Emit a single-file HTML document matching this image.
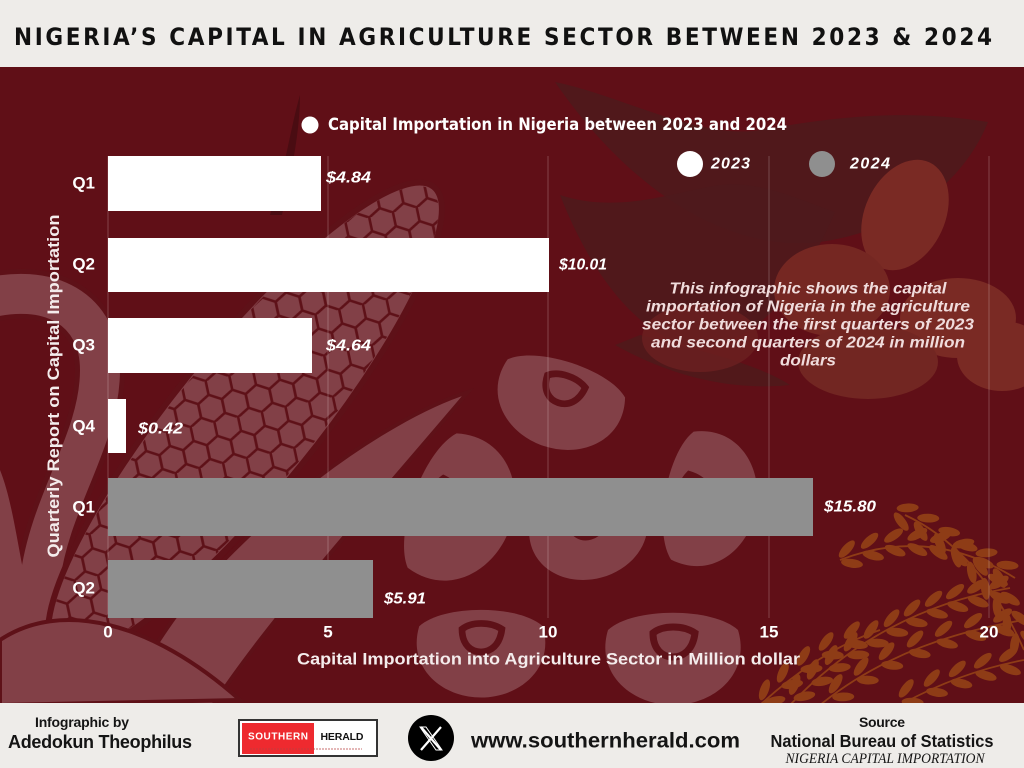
<!DOCTYPE html>
<html><head><meta charset="utf-8"><style>
html,body{margin:0;padding:0;background:#eeece9;}
svg{display:block;}
</style></head><body>
<svg width="1024" height="768" viewBox="0 0 1024 768" xmlns="http://www.w3.org/2000/svg">
<defs>
<clipPath id="red"><rect x="0" y="67" width="1024" height="636"/></clipPath>
<pattern id="hex" width="42" height="24.25" patternUnits="userSpaceOnUse" patternTransform="rotate(-51)">
<path d="M0,12.12 L7,0 H21 L28,12.12 H42 M0,12.12 L7,24.25 H21 L28,12.12" stroke="#5e1118" stroke-width="2.6" fill="none"/>
</pattern>
<g id="bean">
<path d="M-65,-25 C-40,-48 40,-48 65,-25 C78,18 42,50 0,50 C-42,50 -78,18 -65,-25 Z" fill="#824047"/>
<path d="M-20,-22 C-10,-30 10,-30 22,-22 C20,-5 10,2 0,2 C-10,2 -20,-5 -20,-22 Z" fill="none" stroke="#5e1118" stroke-width="7"/>
</g>
<g id="gr2" fill="#8e3c16">
<ellipse cx="3" cy="-7" rx="11" ry="4.4" transform="rotate(-28)"/>
<ellipse cx="3" cy="7" rx="11" ry="4.4" transform="rotate(28)"/>
</g>
</defs>

<rect width="1024" height="768" fill="#eeece9"/>
<rect x="0" y="67" width="1024" height="636" fill="#600f17"/>

<g clip-path="url(#red)">
<!-- soybean pods top right -->
<path d="M555,82 C620,95 700,140 760,130 C830,118 900,108 988,122 C965,180 905,230 820,242 C740,252 640,205 555,82 Z" fill="#4e1a1c" opacity="0.85"/>
<path d="M560,195 C620,215 680,190 720,185 C760,180 800,200 835,212 C805,282 762,342 700,347 C640,342 590,272 560,195 Z" fill="#4e1a1c" opacity="0.85"/>
<path d="M615,345 C660,370 720,392 790,385 C760,365 700,350 640,335 Z" fill="#4e1a1c" opacity="0.8"/>
<ellipse cx="700" cy="338" rx="58" ry="34" fill="#6c2020" opacity="0.8"/>
<ellipse cx="905" cy="215" rx="40" ry="58" transform="rotate(25 905 215)" fill="#7a2a24"/>
<ellipse cx="832" cy="290" rx="58" ry="46" fill="#752722"/>
<ellipse cx="958" cy="318" rx="58" ry="40" fill="#7a2a24"/>
<ellipse cx="868" cy="362" rx="70" ry="37" fill="#722622"/>
<ellipse cx="1002" cy="356" rx="45" ry="35" fill="#7a2a24"/>

<!-- corn leaves -->
<path d="M-20,300 C50,280 100,310 100,370 C100,440 50,500 40,580 C35,640 60,690 90,712" stroke="#5e1118" stroke-width="50" fill="none"/>
<path d="M-20,300 C50,280 100,310 100,370 C100,440 50,500 40,580 C35,640 60,690 90,712" stroke="#824047" stroke-width="40" fill="none"/>
<path d="M0,470 C20,520 20,600 60,705 L0,705 Z" fill="#824047"/>
<path d="M468,392 C380,420 250,520 180,610 C150,650 130,690 115,710 L210,710 C265,625 355,525 468,392 Z" fill="#824047" stroke="#5e1118" stroke-width="4"/>
<path d="M300,95 C290,130 285,170 270,215 L282,215 C292,170 300,130 300,95 Z" fill="#4a0c12"/>
<!-- corn cob -->
<ellipse cx="245" cy="420" rx="300" ry="72" transform="rotate(-51 245 420)" fill="#824047" stroke="#5e1118" stroke-width="6"/>
<ellipse cx="245" cy="420" rx="296" ry="68" transform="rotate(-51 245 420)" fill="url(#hex)"/>
<path d="M0,640 C60,600 150,620 240,700 L0,705 Z" fill="#824047" stroke="#5e1118" stroke-width="4"/>

<!-- beans -->
<use href="#bean" transform="translate(559,401) rotate(18) scale(0.95)"/>
<use href="#bean" transform="translate(458,510) rotate(-70) scale(1.1)"/>
<use href="#bean" transform="translate(590,535) rotate(-15) scale(0.88)"/>
<use href="#bean" transform="translate(707,500) rotate(-80) scale(1.0)"/>
<use href="#bean" transform="translate(481,650) scale(0.95)"/>
<use href="#bean" transform="translate(673,655) scale(1.0)"/>

<!-- rice -->
<g stroke="#8e3c16" stroke-width="1.8" fill="none">
<path d="M905,515 Q980,550 1024,650"/>
<path d="M790,705 Q880,610 1010,588"/>
<path d="M840,560 Q930,525 1015,578"/>
<path d="M900,705 Q960,672 1024,660"/>
<path d="M760,705 Q820,650 880,630"/>
<path d="M820,705 Q900,640 1024,620"/>
</g>
<use href="#gr2" transform="translate(905,515) rotate(25)"/>
<use href="#gr2" transform="translate(925,525) rotate(30)"/>
<use href="#gr2" transform="translate(945,538) rotate(38)"/>
<use href="#gr2" transform="translate(962,552) rotate(45)"/>
<use href="#gr2" transform="translate(978,568) rotate(50)"/>
<use href="#gr2" transform="translate(992,585) rotate(55)"/>
<use href="#gr2" transform="translate(1004,603) rotate(60)"/>
<use href="#gr2" transform="translate(1014,622) rotate(65)"/>
<use href="#gr2" transform="translate(1022,642) rotate(70)"/>
<use href="#gr2" transform="translate(800,690) rotate(-40)"/>
<use href="#gr2" transform="translate(818,675) rotate(-38)"/>
<use href="#gr2" transform="translate(836,661) rotate(-34)"/>
<use href="#gr2" transform="translate(855,648) rotate(-30)"/>
<use href="#gr2" transform="translate(875,636) rotate(-26)"/>
<use href="#gr2" transform="translate(895,625) rotate(-22)"/>
<use href="#gr2" transform="translate(915,615) rotate(-18)"/>
<use href="#gr2" transform="translate(936,606) rotate(-14)"/>
<use href="#gr2" transform="translate(957,599) rotate(-10)"/>
<use href="#gr2" transform="translate(978,594) rotate(-6)"/>
<use href="#gr2" transform="translate(1000,590) rotate(-3)"/>
<use href="#gr2" transform="translate(850,556) rotate(-20)"/>
<use href="#gr2" transform="translate(872,548) rotate(-14)"/>
<use href="#gr2" transform="translate(895,543) rotate(-6)"/>
<use href="#gr2" transform="translate(918,542) rotate(0)"/>
<use href="#gr2" transform="translate(940,545) rotate(8)"/>
<use href="#gr2" transform="translate(962,551) rotate(16)"/>
<use href="#gr2" transform="translate(984,560) rotate(24)"/>
<use href="#gr2" transform="translate(1004,572) rotate(32)"/>
<use href="#gr2" transform="translate(910,695) rotate(-25)"/>
<use href="#gr2" transform="translate(935,685) rotate(-20)"/>
<use href="#gr2" transform="translate(960,676) rotate(-16)"/>
<use href="#gr2" transform="translate(985,668) rotate(-12)"/>
<use href="#gr2" transform="translate(1010,662) rotate(-8)"/>
<use href="#gr2" transform="translate(770,695) rotate(-42)"/>
<use href="#gr2" transform="translate(788,678) rotate(-38)"/>
<use href="#gr2" transform="translate(808,662) rotate(-32)"/>
<use href="#gr2" transform="translate(830,648) rotate(-26)"/>
<use href="#gr2" transform="translate(855,637) rotate(-20)"/>
<use href="#gr2" transform="translate(840,690) rotate(-30)"/>
<use href="#gr2" transform="translate(865,673) rotate(-26)"/>
<use href="#gr2" transform="translate(890,658) rotate(-22)"/>
<use href="#gr2" transform="translate(918,646) rotate(-18)"/>
<use href="#gr2" transform="translate(946,636) rotate(-14)"/>
<use href="#gr2" transform="translate(975,628) rotate(-10)"/>
<use href="#gr2" transform="translate(1004,623) rotate(-6)"/>
</g>

<!-- gridlines -->
<g stroke="#ffffff" stroke-opacity="0.22" stroke-width="1">
<line x1="108" y1="156" x2="108" y2="618"/>
<line x1="328" y1="156" x2="328" y2="618"/>
<line x1="548" y1="156" x2="548" y2="618"/>
<line x1="769" y1="156" x2="769" y2="618"/>
<line x1="989" y1="156" x2="989" y2="618"/>
</g>

<!-- bars -->
<rect x="108" y="156" width="213" height="55" fill="#ffffff"/>
<rect x="108" y="238" width="441" height="54" fill="#ffffff"/>
<rect x="108" y="318" width="204" height="55" fill="#ffffff"/>
<rect x="108" y="399" width="18" height="54" fill="#ffffff"/>
<rect x="108" y="478" width="705" height="58" fill="#8f8f8f"/>
<rect x="108" y="560" width="265" height="58" fill="#8f8f8f"/>

<!-- value labels -->
<g font-family="Liberation Sans, sans-serif" font-weight="bold" font-style="italic" font-size="16" fill="#ffffff" dominant-baseline="central">
<text x="326" y="178" textLength="45" lengthAdjust="spacingAndGlyphs">$4.84</text>
<text x="559" y="265" textLength="48" lengthAdjust="spacingAndGlyphs">$10.01</text>
<text x="326" y="346" textLength="45" lengthAdjust="spacingAndGlyphs">$4.64</text>
<text x="138" y="429" textLength="45" lengthAdjust="spacingAndGlyphs">$0.42</text>
<text x="824" y="507" textLength="52" lengthAdjust="spacingAndGlyphs">$15.80</text>
<text x="384" y="599" textLength="42" lengthAdjust="spacingAndGlyphs">$5.91</text>
</g>

<!-- y category labels -->
<g font-family="Liberation Sans, sans-serif" font-weight="bold" font-size="17" fill="#ffffff" text-anchor="end" dominant-baseline="central">
<text x="95" y="183">Q1</text>
<text x="95" y="264">Q2</text>
<text x="95" y="345">Q3</text>
<text x="95" y="426">Q4</text>
<text x="95" y="507">Q1</text>
<text x="95" y="588">Q2</text>
</g>

<!-- x tick labels -->
<g font-family="Liberation Sans, sans-serif" font-weight="bold" font-size="17" fill="#ffffff" text-anchor="middle" dominant-baseline="central">
<text x="108" y="632">0</text>
<text x="328" y="632">5</text>
<text x="548" y="632">10</text>
<text x="769" y="632">15</text>
<text x="989" y="632">20</text>
</g>

<!-- axis titles -->
<text x="297" y="659" font-family="Liberation Sans, sans-serif" font-weight="bold" font-size="17" fill="#f4ecec" dominant-baseline="central" textLength="503" lengthAdjust="spacingAndGlyphs">Capital Importation into Agriculture Sector in Million dollar</text>
<text transform="translate(59,386) rotate(-90)" font-family="Liberation Sans, sans-serif" font-weight="bold" font-size="17" fill="#f4ecec" text-anchor="middle" textLength="343" lengthAdjust="spacingAndGlyphs">Quarterly Report on Capital Importation</text>

<!-- legend -->
<circle cx="310" cy="125" r="8.5" fill="#ffffff"/>
<text x="328" y="125" font-family="DejaVu Sans Condensed, Liberation Sans, sans-serif" font-weight="bold" font-size="17" fill="#ffffff" dominant-baseline="central" textLength="459" lengthAdjust="spacingAndGlyphs">Capital Importation in Nigeria between 2023 and 2024</text>
<circle cx="690" cy="164" r="13" fill="#ffffff"/>
<text x="711" y="164" font-family="Liberation Sans, sans-serif" font-weight="bold" font-style="italic" font-size="16" fill="#ffffff" dominant-baseline="central" textLength="39">2023</text>
<circle cx="822" cy="164" r="13" fill="#8f8f8f"/>
<text x="850" y="164" font-family="Liberation Sans, sans-serif" font-weight="bold" font-style="italic" font-size="16" fill="#ffffff" dominant-baseline="central" textLength="40">2024</text>

<!-- description -->
<g font-family="Liberation Sans, sans-serif" font-weight="bold" font-style="italic" font-size="15.5" fill="#f0dcdc" text-anchor="middle" dominant-baseline="central">
<text x="808" y="289" textLength="277" lengthAdjust="spacingAndGlyphs">This infographic shows the capital</text>
<text x="808" y="307" textLength="324" lengthAdjust="spacingAndGlyphs">importation of Nigeria in the agriculture</text>
<text x="808" y="325" textLength="332" lengthAdjust="spacingAndGlyphs">sector between the first quarters of 2023</text>
<text x="808" y="343" textLength="314" lengthAdjust="spacingAndGlyphs">and second quarters of 2024 in million</text>
<text x="808" y="361" textLength="56" lengthAdjust="spacingAndGlyphs">dollars</text>
</g>

<!-- title -->
<text x="14" y="37" font-family="DejaVu Sans Condensed, Liberation Sans, sans-serif" font-weight="bold" font-size="24" fill="#111111" dominant-baseline="central" textLength="978" lengthAdjust="spacing">NIGERIA’S CAPITAL IN AGRICULTURE SECTOR BETWEEN 2023 &amp; 2024</text>

<!-- footer -->
<g font-family="Liberation Sans, sans-serif" fill="#141414" font-weight="bold" dominant-baseline="central">
<text x="82" y="722" font-size="14" text-anchor="middle" textLength="94">Infographic by</text>
<text x="100" y="742" font-size="18" text-anchor="middle" textLength="184">Adedokun Theophilus</text>
<text x="471" y="741" font-size="21" textLength="269" lengthAdjust="spacingAndGlyphs">www.southernherald.com</text>
<text x="882" y="722" font-size="14" text-anchor="middle" textLength="46">Source</text>
<text x="882" y="741" font-size="17.5" text-anchor="middle" textLength="223" lengthAdjust="spacingAndGlyphs">National Bureau of Statistics</text>
</g>
<text x="885" y="759" font-family="Liberation Serif, serif" font-style="italic" font-size="15" fill="#141414" text-anchor="middle" dominant-baseline="central" textLength="199" lengthAdjust="spacingAndGlyphs">NIGERIA CAPITAL IMPORTATION</text>

<!-- logo -->
<rect x="239" y="720" width="138" height="36" fill="#ffffff" stroke="#333333" stroke-width="2"/>
<rect x="242" y="723" width="72" height="31" fill="#ee2a2f"/>
<text x="278" y="737" font-family="Liberation Sans, sans-serif" font-weight="bold" font-size="10" fill="#ffffff" text-anchor="middle" dominant-baseline="central" textLength="60">SOUTHERN</text>
<text x="342" y="737" font-family="Liberation Sans, sans-serif" font-weight="bold" font-size="10.5" fill="#111111" text-anchor="middle" dominant-baseline="central" textLength="43">HERALD</text>
<line x1="250" y1="749" x2="362" y2="749" stroke="#b84040" stroke-width="0.8" stroke-dasharray="2 1"/>

<!-- X icon -->
<circle cx="431" cy="738" r="23" fill="#000000"/>
<path d="M421,727 L441,750 M441,727 L421,750" stroke="#ffffff" stroke-width="2.2"/>
<path d="M420,727 L426,727 L442,750 L436,750 Z" fill="none" stroke="#ffffff" stroke-width="1"/>
</svg>
</body></html>
